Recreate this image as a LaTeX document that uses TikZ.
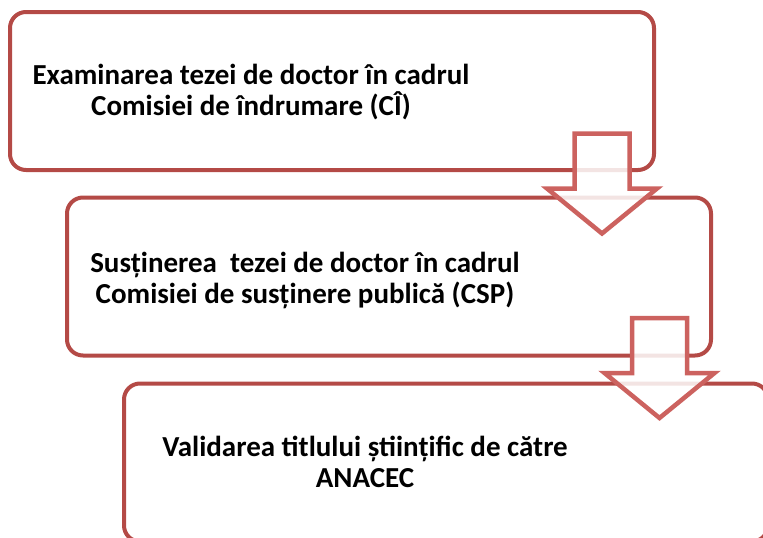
\documentclass[tikz,border=0pt]{standalone}
\usepackage{fontspec}
\setmainfont{Carlito}
\usetikzlibrary{calc}
\definecolor{boxred}{RGB}{180,74,70}
\definecolor{arrred}{RGB}{204,98,95}
\tikzset{
  stepbox/.style={draw=boxred, line width=4pt, rounded corners=16pt, fill=none,
    minimum width=644pt, minimum height=158pt, inner sep=0pt, outer sep=0pt},
  steptext/.style={align=center, font=\fontsize{29}{31}\selectfont\bfseries, text=black, inner sep=0pt},
  blockarrow/.style={draw=arrred, line width=4.5pt, fill=white, fill opacity=0.85, line join=miter},
  pics/downarrow/.style={code={
    \draw[blockarrow] (-27.5,0) -- (27.5,0) -- (27.5,55) -- (55,55) -- (0,100)
      -- (-55,55) -- (-27.5,55) -- cycle;
  }}
}
\begin{document}
\begin{tikzpicture}[x=1pt,y=-1pt]
\useasboundingbox (0,0) rectangle (763,538);
\node[stepbox] (b1) at (332,91) {};
\node[stepbox] (b2) at (389,276.5) {};
\node[stepbox] (b3) at (446,462.5) {};
\node[steptext] (t1) at ($(b1.west)+(241,1)$) {Examinarea tezei de doctor în cadrul\\Comisiei de îndrumare (CÎ)};
\node[steptext] (t2) at ($(b2.west)+(238,4)$) {Susținerea\ \ tezei de doctor în cadrul\\Comisiei de susținere publică (CSP)};
\node[steptext] (t3) at ($(b3.west)+(241,-1)$) {Validarea titlului științific de către\\ANACEC};
\pic (a1) at (602,133.5) {downarrow};
\pic (a2) at (659.5,318) {downarrow};
\end{tikzpicture}
\end{document}
